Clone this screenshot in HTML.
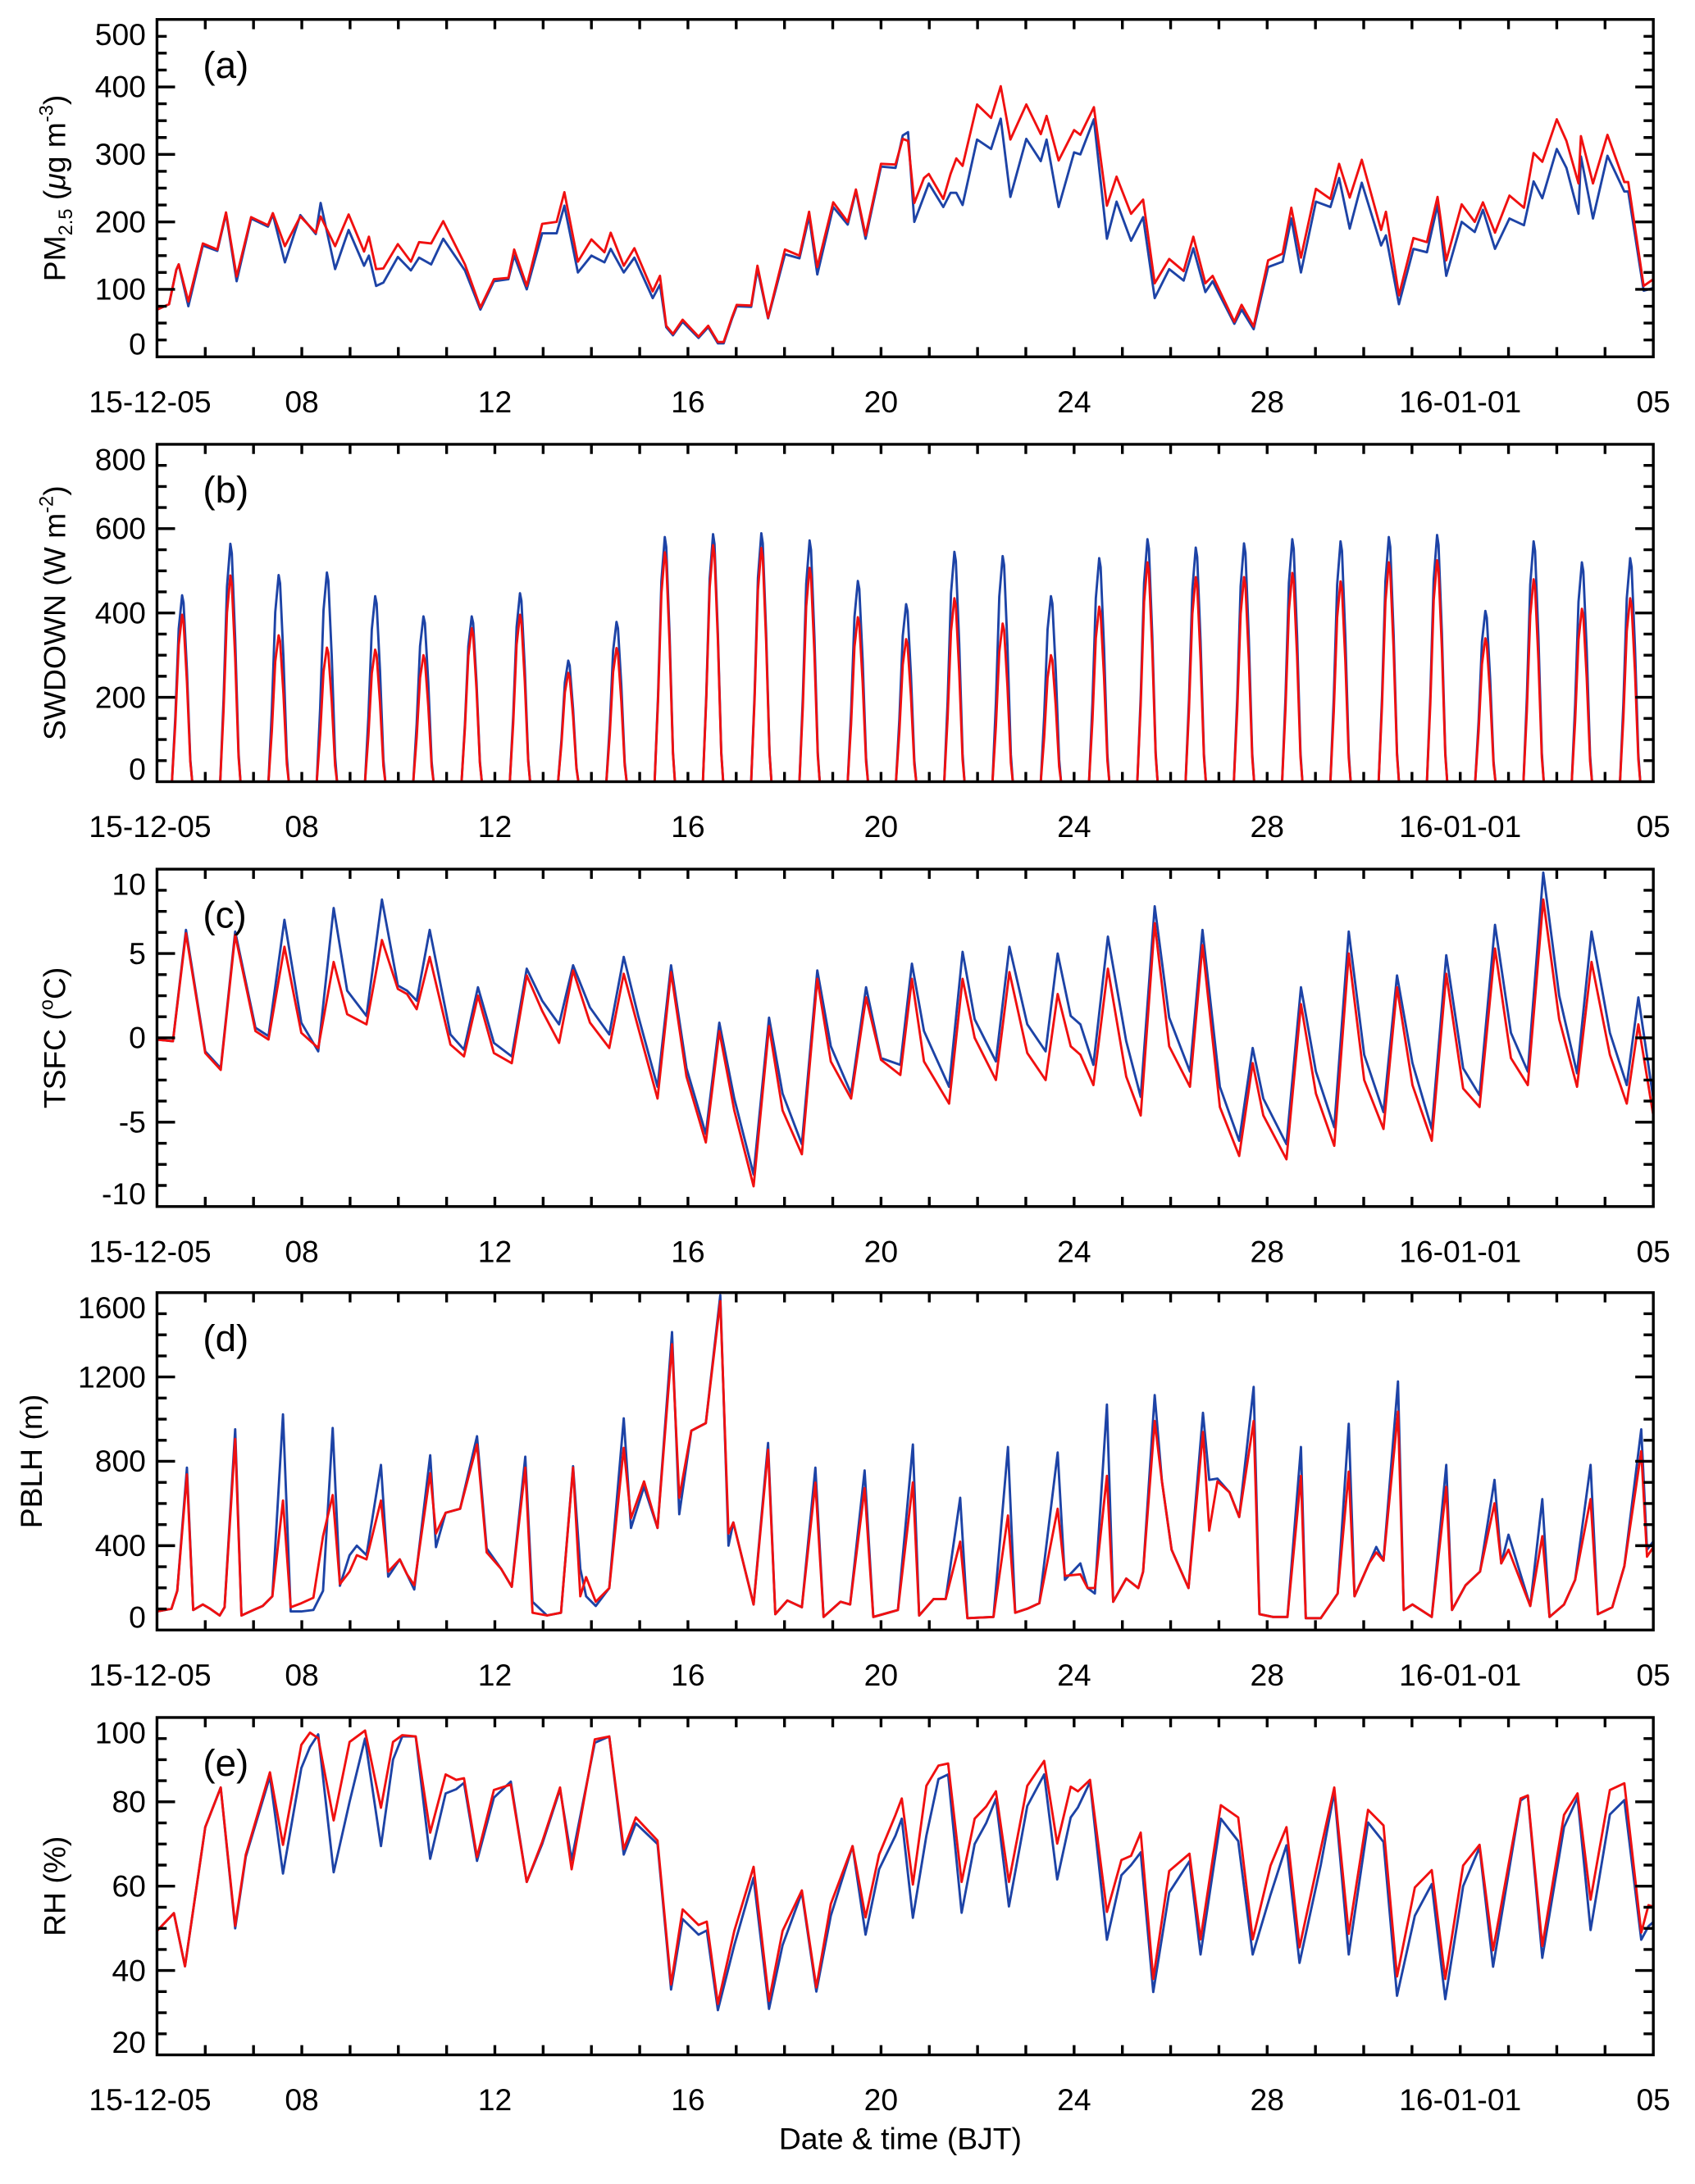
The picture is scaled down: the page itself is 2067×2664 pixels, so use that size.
<!DOCTYPE html>
<html><head><meta charset="utf-8">
<style>
html,body{margin:0;padding:0;background:#fff;}
svg{display:block;font-family:"Liberation Sans",Arial,sans-serif;}
</style></head>
<body>
<svg id="fig" width="2067" height="2664" viewBox="0 0 1220 1573" preserveAspectRatio="none" xmlns="http://www.w3.org/2000/svg">
<rect x="0" y="0" width="1220" height="1573" fill="#fff"/>
<text x="648" y="1548" text-anchor="middle" font-size="22">Date &amp; time (BJT)</text>
</svg>
<script>
// ---------- DATA ----------
// x tick labels (days since 2015-12-05 00 BJT)
const xTickDays = [0, 3, 7, 11, 15, 19, 23, 27, 31];
const xTickLabels = ["15-12-05", "08", "12", "16", "20", "24", "28", "16-01-01", "05"];

// (a) PM2.5
const pmTime = [0,0.25,0.4,0.45,0.65,0.95,1.25,1.43,1.65,1.95,
2.3,2.4,2.65,2.97,3.29,3.39,3.69,3.97,4.29,4.39,
4.54,4.69,4.99,5.26,5.43,5.68,5.93,6.38,6.7,6.98,
7.28,7.4,7.66,7.98,8.28,8.44,8.72,9.0,9.27,9.4,
9.67,9.89,10.27,10.42,10.55,10.69,10.89,11.22,11.42,11.62,
11.74,11.91,12.01,12.31,12.44,12.66,13.01,13.31,13.51,13.68,
14.01,14.31,14.48,14.68,15.0,15.3,15.45,15.56,15.69,15.89,
15.99,16.29,16.44,16.56,16.69,16.99,17.28,17.48,17.68,18.01,
18.31,18.43,18.68,19.0,19.13,19.41,19.68,19.88,20.18,20.43,
20.67,20.97,21.27,21.47,21.72,21.87,22.32,22.47,22.72,23.02,
23.32,23.5,23.7,24.01,24.31,24.49,24.71,24.96,25.36,25.46,
25.73,26.03,26.31,26.53,26.71,27.03,27.3,27.47,27.72,28.02,
28.32,28.52,28.7,29.0,29.2,29.45,29.5,29.75,30.05,30.4,
30.48,30.8,31.0];
const pmRed = [70,78,129,137,82,168,159,214,119,207,
195,213,164,208,184,208,164,211,156,178,
130,131,167,141,170,168,201,137,73,115,
117,159,105,197,200,244,141,174,155,184,
135,161,97,120,46,34,55,30,46,22,
22,58,77,76,135,58,159,150,215,133,
229,200,248,180,286,285,323,320,228,265,
271,234,271,294,283,374,354,401,322,374,
330,357,291,336,329,370,224,267,212,233,
109,145,127,178,109,120,52,77,45,143,
153,221,147,249,234,286,236,292,188,215,
91,176,170,237,143,226,200,229,184,239,
221,302,289,352,320,257,327,257,329,259,
259,105,115];
const pmBlue = [70,78,129,137,75,165,157,212,112,205,
193,211,140,210,182,228,130,188,135,150,
105,110,148,128,147,137,175,128,70,112,
115,150,100,183,183,224,125,150,140,160,
125,147,87,107,44,32,52,28,44,20,
20,56,75,74,130,57,152,146,208,122,
222,196,246,175,282,280,328,333,200,238,
257,222,243,243,225,322,308,353,237,323,
290,322,222,303,300,352,175,230,172,207,
87,130,113,161,96,112,49,70,41,133,
141,205,125,230,222,265,190,258,165,180,
78,160,155,225,120,200,185,218,160,205,
195,260,235,308,280,212,297,205,298,245,
245,98,102];

// (b) SWDOWN daily peak values (one per day, Dec 5 .. Jan 4)
const swBluePeak = [442,564,490,496,440,392,392,447,287,379,580,587,589,572,476,421,545,535,440,530,575,555,565,575,570,580,585,405,570,520,530];
const swRedPeak  = [396,489,347,318,313,300,364,396,258,317,544,561,554,507,390,338,435,375,300,415,520,485,485,495,475,520,525,340,480,410,435];

// (c) TSFC
const tTime = [0,0.33,0.6,1.0,1.32,1.62,2.04,2.31,2.64,2.99,
3.34,3.66,3.94,4.34,4.66,4.99,5.18,5.38,5.65,6.08,
6.36,6.65,6.98,7.35,7.66,7.98,8.33,8.62,8.97,9.37,
9.67,9.97,10.37,10.65,10.97,11.37,11.65,11.96,12.36,12.68,
12.96,13.36,13.68,13.96,14.38,14.69,15.0,15.4,15.64,15.89,
16.41,16.69,16.94,17.38,17.66,18.03,18.41,18.66,18.93,19.13,
19.4,19.7,20.08,20.38,20.67,20.97,21.4,21.66,22.02,22.42,
22.7,22.92,23.4,23.7,24.01,24.39,24.69,25.01,25.41,25.69,
26.01,26.41,26.71,27.06,27.4,27.72,28.05,28.4,28.72,29.05,
29.42,29.72,30.1,30.45,30.69,31.0];
const tRed = [-0.1,-0.2,6.2,-0.9,-1.9,6.1,0.4,-0.1,5.4,0.3,
-0.6,4.5,1.4,0.8,5.8,2.9,2.6,1.7,4.8,-0.4,
-1.1,2.5,-0.9,-1.5,3.7,1.6,-0.3,4.0,0.9,-0.6,
3.8,0.6,-3.6,3.9,-2.3,-6.2,0.4,-4.3,-8.8,0.7,
-4.3,-6.9,3.5,-1.4,-3.6,2.4,-1.3,-2.2,3.5,-1.4,
-3.9,3.5,0,-2.5,3.9,-0.9,-2.5,2.6,-0.5,-1.0,
-2.8,4.1,-2.3,-4.6,6.8,-0.5,-2.9,5.5,-4.1,-7.0,
-1.5,-4.6,-7.2,2.0,-3.3,-6.4,5.0,-2.5,-5.4,3.0,
-2.8,-6.1,3.8,-3.0,-4.1,5.3,-1.2,-2.8,8.2,1.1,
-2.9,4.5,-1.0,-3.9,0.8,-4.6];
const tBlue = [-0.1,-0.2,6.4,-0.8,-1.8,6.3,0.6,0.1,7.0,0.9,
-0.8,7.7,2.8,1.3,8.2,3.1,2.8,2.2,6.4,0.2,
-0.7,3.0,-0.3,-1.1,4.1,2.2,0.8,4.3,1.8,0.2,
4.8,1.3,-2.9,4.3,-1.8,-5.7,0.9,-3.6,-8.1,1.2,
-3.3,-6.3,4.0,-0.5,-3.3,3.0,-1.2,-1.6,4.4,0.4,
-2.9,5.1,1.1,-1.4,5.4,0.8,-0.8,5.0,1.3,0.8,
-1.6,6.0,-0.2,-3.5,7.8,1.2,-2.0,6.4,-2.9,-6.1,
-0.6,-3.6,-6.3,3.0,-2.0,-5.3,6.3,-1.0,-4.4,3.7,
-1.5,-5.4,4.9,-1.8,-3.4,6.7,0.3,-2.0,9.8,2.5,
-2.1,6.3,0.3,-2.8,2.4,-3.6];

// (d) PBLH
const hTime = [0,0.3,0.42,0.62,0.75,0.95,1.1,1.3,1.4,1.62,
1.75,2.0,2.19,2.39,2.61,2.77,2.99,3.24,3.44,3.64,
3.79,3.99,4.14,4.34,4.64,4.79,5.03,5.18,5.33,5.66,
5.78,5.98,6.28,6.63,6.83,7.13,7.35,7.63,7.78,8.08,
8.37,8.62,8.77,8.89,9.09,9.37,9.67,9.82,10.09,10.37,
10.67,10.82,11.07,11.37,11.67,11.84,11.94,12.36,12.66,12.81,
13.06,13.36,13.64,13.81,14.16,14.36,14.66,14.84,15.15,15.35,
15.66,15.79,16.09,16.34,16.64,16.79,17.33,17.63,17.78,18.03,
18.28,18.66,18.81,19.13,19.28,19.43,19.68,19.81,20.08,20.33,
20.43,20.67,20.82,21.02,21.37,21.67,21.8,21.97,22.22,22.42,
22.72,22.84,23.12,23.42,23.7,23.8,24.11,24.46,24.69,24.81,
25.11,25.26,25.41,25.71,25.83,26.01,26.41,26.71,26.83,27.11,
27.41,27.71,27.85,28.0,28.45,28.7,28.85,29.15,29.38,29.7,
29.85,30.15,30.4,30.75,30.87,31.0];
const hRed = [88,101,186,738,95,121,101,69,108,906,
69,95,114,160,614,108,127,153,445,640,
218,277,355,335,614,277,335,264,212,744,
458,556,575,880,368,290,205,770,82,69,
82,770,160,251,134,199,864,530,705,484,
1355,627,945,981,1560,458,510,121,855,75,
140,108,699,62,134,121,673,62,82,95,
700,69,147,147,419,56,62,543,82,101,
127,575,257,264,199,199,731,134,244,199,
277,991,705,381,199,939,471,705,653,536,
991,75,62,62,731,56,56,173,751,160,
316,368,329,1036,95,121,62,679,95,212,
277,601,316,381,114,445,62,121,238,621,
75,108,303,848,348,393];
const hBlue = [88,101,186,770,95,121,101,69,108,952,
69,95,114,160,1023,88,88,95,186,958,
210,355,400,355,783,253,335,264,192,829,
393,556,575,919,387,290,205,822,134,69,
82,777,290,160,114,199,1004,484,679,484,
1413,549,945,981,1588,400,510,121,887,75,
140,108,770,62,134,121,757,62,82,95,
880,69,147,147,627,56,62,868,82,101,
127,842,238,316,199,173,1069,134,244,199,
277,1114,705,381,199,1030,712,718,653,536,
1153,75,62,62,868,56,56,173,978,160,
316,394,329,1179,95,121,62,783,95,212,
277,712,316,452,114,621,62,121,238,783,
75,108,303,952,381,420];

// (e) RH
const rhTime = [0,0.35,0.58,1.0,1.32,1.62,1.84,2.34,2.61,2.99,
3.17,3.34,3.66,3.99,4.31,4.64,4.89,5.08,5.36,5.66,
5.98,6.2,6.36,6.63,6.98,7.33,7.66,7.98,8.35,8.59,
9.07,9.37,9.67,9.92,10.37,10.65,10.89,11.22,11.39,11.62,
11.96,12.36,12.68,12.96,13.36,13.66,13.96,14.41,14.68,14.96,
15.3,15.43,15.66,15.94,16.19,16.39,16.67,16.94,17.18,17.38,
17.65,18.03,18.38,18.65,18.93,19.08,19.33,19.68,19.98,20.18,
20.38,20.64,20.97,21.39,21.62,22.04,22.4,22.7,23.07,23.4,
23.67,24.11,24.39,24.69,25.09,25.41,25.69,26.06,26.41,26.69,
27.06,27.4,27.68,28.25,28.4,28.7,29.15,29.43,29.7,30.1,
30.4,30.75,30.9,31.0];
const rhRed = [49.4,53.6,41.0,74.0,83.4,50.6,67.5,87.0,69.8,93.5,
96.4,95.1,75.6,94.2,96.9,78.6,94.2,95.8,95.5,72.7,
86.5,85.2,85.6,66.9,82.8,84.1,61.0,70.5,83.4,64.0,
94.8,95.5,68.8,76.3,70.8,36.7,54.5,50.8,51.6,32.1,
49.4,64.6,32.8,49.4,59.0,36.0,55.8,69.5,52.6,67.5,
76.9,80.8,60.4,83.8,88.6,89.1,61.0,76.0,78.9,82.5,
61.0,83.8,89.7,70.1,83.6,82.5,85.2,53.9,66.2,67.2,
72.7,38.0,63.6,67.7,47.4,79.2,76.3,47.4,64.9,74.0,
45.5,68.8,83.4,48.7,78.1,74.4,38.6,59.7,63.8,38.0,
64.9,69.8,44.8,80.8,81.5,45.8,76.9,82.0,56.8,82.8,
84.4,49.0,55.5,55.1];
const rhBlue = [49.4,53.6,41.0,74.0,83.4,50.0,67.0,86.0,63.0,88.0,
93.0,96.0,63.3,80.0,95.0,69.5,90.0,95.5,95.5,66.5,
82.0,83.0,84.5,66.0,81.0,84.8,61.0,70.0,83.0,66.2,
94.0,95.5,67.5,74.9,70.0,35.5,52.2,48.5,49.5,30.6,
46.0,62.0,30.9,46.0,58.5,35.0,53.0,69.5,48.5,64.0,
72.0,76.0,52.5,72.0,85.4,86.5,53.7,70.0,75.0,80.7,
55.2,79.0,86.5,61.6,76.3,78.7,84.7,47.3,62.6,65.0,
68.0,34.9,58.5,65.9,43.8,76.0,70.7,43.8,58.0,69.7,
41.8,65.0,82.4,43.8,75.1,70.5,34.0,53.0,60.5,33.2,
60.0,69.2,40.9,80.3,81.5,43.0,74.0,81.0,49.6,77.0,
80.4,47.3,50.5,51.5];

// y tick labels per panel
const aTicks = [0,100,200,300,400,500];
const bTicks = [0,200,400,600,800];
const cTicks = [-10,-5,0,5,10];
const dTicks = [0,400,800,1200,1600];
const eTicks = [20,40,60,80,100];

// ---------- DRAWING ----------
const NS = "http://www.w3.org/2000/svg";
const svg = document.getElementById("fig");
const X0 = 113, X1 = 1190, NDAYS = 31, PH = 243;
function xs(d){ return X0 + (X1 - X0) * d / NDAYS; }
function mk(tag, parent){ const e = document.createElementNS(NS, tag); parent.appendChild(e); return e; }
function attr(e, o){ for (const k in o) e.setAttribute(k, o[k]); }

const BLUE = "#1d43a6", RED = "#f01010";

function buildPanel(p){
  const g = mk("g", svg);
  
  
  const top = p.top, bot = p.top + PH;
  const ys = v => top + (p.max - v) / (p.max - p.min) * PH;

  // clip
  const cp = mk("clipPath", g);
  attr(cp, {id: "clip-" + p.id});
  const cr = mk("rect", cp);
  attr(cr, {x: X0, y: top, width: X1 - X0, height: PH});

  // series
  p.series.forEach(s => {
    let d = "";
    for (let i = 0; i < s.t.length; i++) d += (i ? "L" : "M") + xs(s.t[i]).toFixed(2) + "," + ys(s.v[i]).toFixed(2);
    const path = mk("path", g);
    attr(path, {d: d, fill: "none", stroke: s.color, "stroke-width": 1.7, "stroke-linejoin": "round", "clip-path": "url(#clip-" + p.id + ")"});
    
    
  });

  // frame
  const fr = mk("rect", g);
  attr(fr, {x: X0, y: top, width: X1 - X0, height: PH, fill: "none", stroke: "#000", "stroke-width": 2});
  
  

  // x ticks (every day, top & bottom)
  let tk = "";
  for (let dd = 1; dd < NDAYS; dd++) {
    const x = xs(dd).toFixed(2);
    tk += "M" + x + "," + bot + "v-7M" + x + "," + top + "v7";
  }
  // y ticks
  const step = (p.ticks[1] - p.ticks[0]) / 4;
  for (let v = p.min + step; v < p.max - step / 2; v += step) {
    const y = ys(v).toFixed(2);
    const major = Math.abs(((v - p.ticks[0]) / (step * 4)) - Math.round((v - p.ticks[0]) / (step * 4))) < 1e-6;
    const L = major ? 13 : 7;
    tk += "M" + X0 + "," + y + "h" + L + "M" + X1 + "," + y + "h-" + L;
  }
  const ticks = mk("path", g);
  attr(ticks, {d: tk, stroke: "#000", "stroke-width": 2, fill: "none"});
  
  

  // y tick labels
  p.ticks.forEach(v => {
    let y = ys(v);
    if (y < top + 11) y = top + 11;
    if (y > bot - 9) y = bot - 9;
    const t = mk("text", g);
    attr(t, {x: 105, y: (y + 7.5).toFixed(2), "text-anchor": "end", "font-size": 22});
    t.textContent = String(v);
    
    
  });

  // x tick labels
  xTickDays.forEach((dd, i) => {
    const t = mk("text", g);
    let x = xs(dd);
    if (i === 0) x = 108;
    attr(t, {x: x.toFixed(2), y: bot + 40, "text-anchor": "middle", "font-size": 22});
    t.textContent = xTickLabels[i];
    
    
  });

  // panel letter
  const lt = mk("text", g);
  attr(lt, {x: 146, y: top + 42, "font-size": 27});
  lt.textContent = "(" + p.id + ")";
  
  

  // y axis title
  const yt = mk("text", g);
  attr(yt, {transform: "translate(" + p.titleX + "," + (top + PH / 2) + ") rotate(-90)", "text-anchor": "middle", "font-size": 22});
  p.title(yt);
  
  
}

function tsp(parent, txt, opts){
  const s = mk("tspan", parent);
  if (opts) attr(s, opts);
  s.textContent = txt;
  return s;
}

// SWDOWN: each day's peak drawn as a spike around local noon
function swSeries(peaks){
  const t = [], v = [];
  const shapeT = [0.31, 0.38, 0.45, 0.52, 0.55, 0.62, 0.69, 0.73];
  const shapeF = [0, 0.35, 0.82, 1, 0.96, 0.6, 0.12, 0];
  t.push(0); v.push(0);
  for (let d = 0; d < peaks.length; d++) {
    for (let k = 0; k < shapeT.length; k++) { t.push(d + shapeT[k]); v.push(peaks[d] * shapeF[k]); }
  }
  t.push(31); v.push(0);
  return {t: t, v: v};
}
const swB = swSeries(swBluePeak), swR = swSeries(swRedPeak);

buildPanel({id: "a", top: 14, min: 0, max: 500, ticks: aTicks, titleX: 47,
  series: [{name: "blue", color: BLUE, t: pmTime, v: pmBlue}, {name: "red", color: RED, t: pmTime, v: pmRed}],
  title: el => { tsp(el, "PM"); tsp(el, "2.5", {"font-size": 14, dy: 5}); tsp(el, " (", {dy: -5}); tsp(el, "μ", {"font-style": "italic"}); tsp(el, "g m"); tsp(el, "-3", {"font-size": 14, dy: -9}); tsp(el, ")", {dy: 9}); }});
buildPanel({id: "b", top: 320, min: 0, max: 800, ticks: bTicks, titleX: 47,
  series: [{name: "blue", color: BLUE, t: swB.t, v: swB.v}, {name: "red", color: RED, t: swR.t, v: swR.v}],
  title: el => { tsp(el, "SWDOWN (W m"); tsp(el, "-2", {"font-size": 14, dy: -9}); tsp(el, ")", {dy: 9}); }});
buildPanel({id: "c", top: 626, min: -10, max: 10, ticks: cTicks, titleX: 47,
  series: [{name: "blue", color: BLUE, t: tTime, v: tBlue}, {name: "red", color: RED, t: tTime, v: tRed}],
  title: el => { tsp(el, "TSFC ("); tsp(el, "o", {"font-size": 14, dy: -9}); tsp(el, "C)", {dy: 9}); }});
buildPanel({id: "d", top: 931, min: 0, max: 1600, ticks: dTicks, titleX: 30,
  series: [{name: "blue", color: BLUE, t: hTime, v: hBlue}, {name: "red", color: RED, t: hTime, v: hRed}],
  title: el => { tsp(el, "PBLH (m)"); }});
buildPanel({id: "e", top: 1237, min: 20, max: 100, ticks: eTicks, titleX: 47,
  series: [{name: "blue", color: BLUE, t: rhTime, v: rhBlue}, {name: "red", color: RED, t: rhTime, v: rhRed}],
  title: el => { tsp(el, "RH (%)"); }});
</script>
</body></html>
